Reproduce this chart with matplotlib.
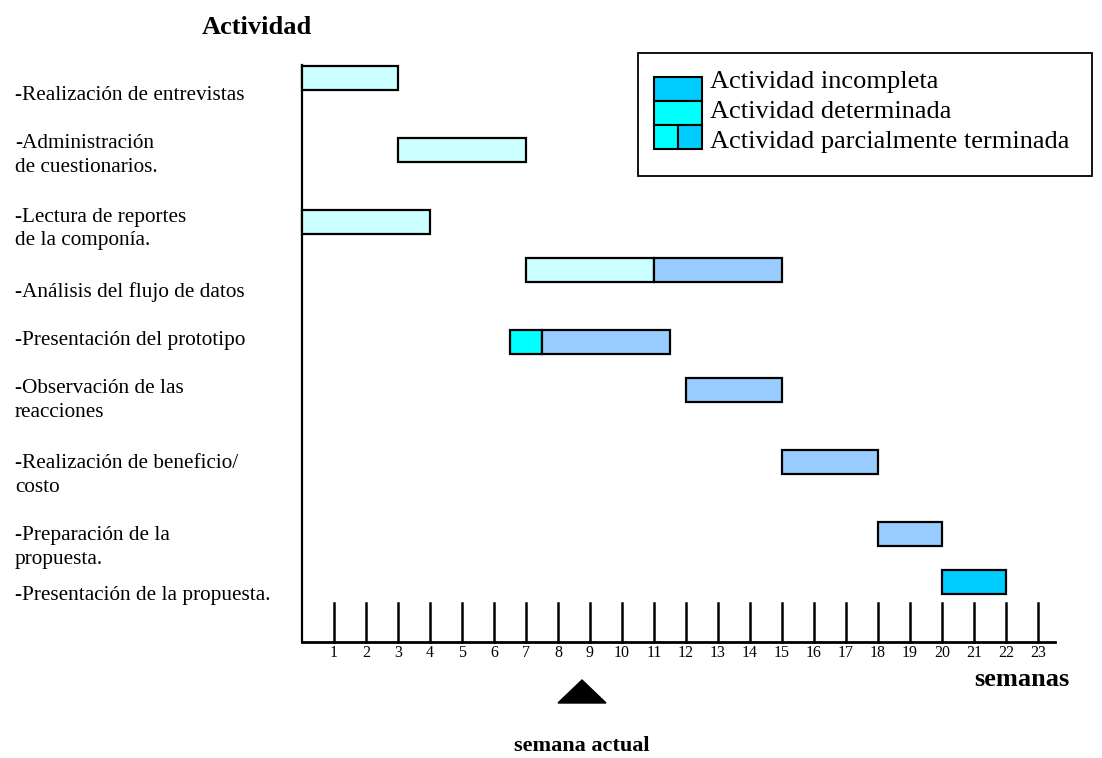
import matplotlib
matplotlib.use("Agg")
import matplotlib.pyplot as plt
from matplotlib.patches import Rectangle, Polygon

plt.rcParams['font.family'] = ['Liberation Serif', 'DejaVu Serif']

# ---- data ----
activities = [
    "-Realización de entrevistas",
    "-Administración\nde cuestionarios.",
    "-Lectura de reportes\nde la componía.",
    "-Análisis del flujo de datos",
    "-Presentación del prototipo",
    "-Observación de las\nreacciones",
    "-Realización de beneficio/\ncosto",
    "-Preparación de la\npropuesta.",
    "-Presentación de la propuesta.",
]
# segments per activity: (start week, end week, status)
segments = [
    [(0, 3, "done")],
    [(3, 7, "done")],
    [(0, 4, "done")],
    [(7, 11, "done"), (11, 15, "planned")],
    [(6.5, 7.5, "determined"), (7.5, 11.5, "planned")],
    [(12, 15, "planned")],
    [(15, 18, "planned")],
    [(18, 20, "planned")],
    [(20, 22, "incomplete")],
]
weeks = list(range(1, 24))
current_week = 8.75
legend_labels = ["Actividad incompleta", "Actividad determinada",
                 "Actividad parcialmente terminada"]

colors = {"done": "#CCFFFF", "planned": "#99CCFF",
          "determined": "#00FFFF", "incomplete": "#00CCFF"}

# layout (row slot positions in units of 24 px)
row_slots = [3.25, 6.25, 9.25, 11.25, 14.25, 16.25, 19.25, 22.25, 24.25]
label_offsets = [0.74, 0.24, 0.29, 0.92, -0.08, 0.42, 0.57, 0.57, 0.57]

W, H = 1102, 758
fig = plt.figure(figsize=(W / 100, H / 100), dpi=100)
ax = fig.add_axes([0, 0, 1, 1])
ax.set_xlim(-302 / 32, (W - 302) / 32)
ax.set_ylim(H / 24, 0)
ax.axis("off")

# bars
for slot, segs in zip(row_slots, segments):
    for s, e, st in segs:
        ax.add_patch(Rectangle((s, slot - 0.5), e - s, 1.0, facecolor=colors[st],
                               edgecolor="black", linewidth=1.6, zorder=3))

# labels
for slot, off, lab in zip(row_slots, label_offsets, activities):
    ax.text(-302 / 32 + 15 / 32, slot + off, lab, ha="left", va="center",
            fontsize=15.3, linespacing=1.35)

# axes lines
base = 642 / 24
ax.plot([0, 0], [65 / 24, base], color="black", lw=1.6, zorder=2)
ax.plot([0, (1055 - 302) / 32], [base, base], color="black", lw=2, zorder=2)
for w in weeks:
    ax.plot([w, w], [603 / 24, base], color="black", lw=1.8, zorder=2)
    ax.text(w, 653 / 24, str(w), ha="center", va="center", fontsize=11.5)

# titles
ax.text(-45 / 32, 28 / 24, "Actividad", ha="center", va="center",
        fontsize=19, fontweight="bold")
ax.text(720 / 32, 680 / 24, "semanas", ha="center", va="center",
        fontsize=19, fontweight="bold")
ax.text(current_week, 746 / 24, "semana actual", ha="center", va="center",
        fontsize=16, fontweight="bold")

# current week marker
ax.add_patch(Polygon([(current_week - 0.75, 703 / 24), (current_week + 0.75, 703 / 24),
                      (current_week, 680 / 24)], closed=True, facecolor="black",
                     edgecolor="black"))

# legend box
lx0, lx1 = 336 / 32, 790 / 32
ly0, ly1 = 53 / 24, 176 / 24
ax.add_patch(Rectangle((lx0, ly0), lx1 - lx0, ly1 - ly0, facecolor="white",
                       edgecolor="black", linewidth=1.3, zorder=4))
px0, px1, pmid = 352 / 32, 400 / 32, 376 / 32
rows_y = [(77 / 24, 101 / 24), (101 / 24, 125 / 24), (125 / 24, 149 / 24)]
ax.add_patch(Rectangle((px0, rows_y[0][0]), px1 - px0, rows_y[0][1] - rows_y[0][0],
                       facecolor=colors["incomplete"], edgecolor="black", lw=1.5, zorder=5))
ax.add_patch(Rectangle((px0, rows_y[1][0]), px1 - px0, rows_y[1][1] - rows_y[1][0],
                       facecolor=colors["determined"], edgecolor="black", lw=1.5, zorder=5))
ax.add_patch(Rectangle((px0, rows_y[2][0]), pmid - px0, rows_y[2][1] - rows_y[2][0],
                       facecolor=colors["determined"], edgecolor="black", lw=1.5, zorder=5))
ax.add_patch(Rectangle((pmid, rows_y[2][0]), px1 - pmid, rows_y[2][1] - rows_y[2][0],
                       facecolor=colors["incomplete"], edgecolor="black", lw=1.5, zorder=5))
text_baselines = [88 / 24, 118 / 24, 148 / 24]
for yb, lab in zip(text_baselines, legend_labels):
    ax.text(408 / 32, yb, lab, ha="left", va="baseline", fontsize=19, zorder=6)

fig.savefig("out.png", dpi=100)
